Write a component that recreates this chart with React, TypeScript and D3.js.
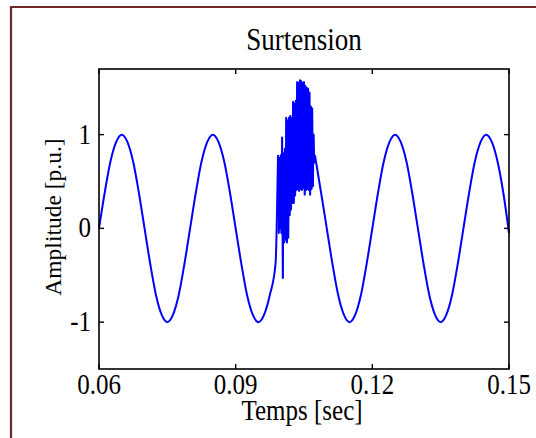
import React from "react";
import * as d3 from "d3";

// plot size
const W = 536;
const H = 438;
const margin = { left: 99, right: 27, top: 69, bottom: 69 };

const xTicks = [0.06, 0.09, 0.12, 0.15];
const xTickLabels = ["0.06", "0.09", "0.12", "0.15"];
const yTicks = [1, 0, -1];
const yTickLabels = ["1", "0", "-1"];

// 50 Hz voltage before the disturbance
const waveBefore: [number, number][] = [
  [0.06, 0], [0.06125, 0.38], [0.0625, 0.71], [0.06375, 0.92], [0.065, 1],
  [0.06625, 0.92], [0.0675, 0.71], [0.06875, 0.38], [0.07, 0], [0.07125, -0.38],
  [0.0725, -0.71], [0.07375, -0.92], [0.075, -1], [0.07625, -0.92], [0.0775, -0.71],
  [0.07875, -0.38], [0.08, 0], [0.08125, 0.38], [0.0825, 0.71], [0.08375, 0.92],
  [0.085, 1], [0.08625, 0.92], [0.0875, 0.71], [0.08875, 0.38], [0.09, 0],
  [0.09125, -0.38], [0.0925, -0.71], [0.09375, -0.92], [0.095, -1], [0.09625, -0.92],
  [0.0975, -0.71], [0.09875, -0.38],
];

// high frequency overvoltage burst
const burst: [number, number][] = [
  [0.0993, 0.78], [0.09945, -0.05], [0.0996, 0.75], [0.09975, 0.0], [0.0999, 0.78],
  [0.10005, -0.05], [0.1002, 0.97], [0.10035, -0.53], [0.1005, 0.8], [0.10065, -0.15],
  [0.1008, 0.85], [0.10095, -0.12], [0.1011, 1.18], [0.10125, -0.15], [0.1014, 1.15],
  [0.10155, -0.1], [0.1017, 1.18], [0.10185, 0.14], [0.102, 1.2], [0.10215, 0.2],
  [0.1023, 1.18], [0.10245, 0.27], [0.1026, 1.35], [0.10275, 0.27], [0.1029, 1.33],
  [0.10305, 0.35], [0.1032, 1.36], [0.10335, 0.41], [0.1035, 1.56], [0.10365, 0.42],
  [0.1038, 1.55], [0.10395, 0.4], [0.1041, 1.58], [0.10425, 0.42], [0.1044, 1.57],
  [0.10455, 0.41], [0.1047, 1.55], [0.10485, 0.43], [0.105, 1.56], [0.10515, 0.36],
  [0.1053, 1.52], [0.10545, 0.41], [0.1056, 1.5], [0.10575, 0.42], [0.1059, 1.49],
  [0.10605, 0.41], [0.1062, 1.45], [0.10635, 0.36], [0.1065, 1.3], [0.10665, 0.42],
  [0.1068, 1.28], [0.10695, 0.45], [0.1071, 1.0], [0.10725, 0.7], [0.1074, 0.78],
];

const waveAfter: [number, number][] = [
  [0.10875, 0.38], [0.11, 0], [0.11125, -0.38], [0.1125, -0.71], [0.11375, -0.92],
  [0.115, -1], [0.11625, -0.92], [0.1175, -0.71], [0.11875, -0.38], [0.12, 0],
  [0.12125, 0.38], [0.1225, 0.71], [0.12375, 0.92], [0.125, 1], [0.12625, 0.92],
  [0.1275, 0.71], [0.12875, 0.38], [0.13, 0], [0.13125, -0.38], [0.1325, -0.71],
  [0.13375, -0.92], [0.135, -1], [0.13625, -0.92], [0.1375, -0.71], [0.13875, -0.38],
  [0.14, 0], [0.14125, 0.38], [0.1425, 0.71], [0.14375, 0.92], [0.145, 1],
  [0.14625, 0.92], [0.1475, 0.71], [0.14875, 0.38], [0.15, -0.05],
];

const font = "'Liberation Serif', 'Times New Roman', serif";

// text looks a bit taller than wide in the original
const Label = ({ x, y, size, anchor = "middle", children }: any) => (
  <text transform={`translate(${x},${y}) scale(1,1.15)`} textAnchor={anchor} fontSize={size}>
    {children}
  </text>
);

export default function App() {
  const x = d3.scaleLinear().domain([0.06, 0.15]).range([margin.left, W - margin.right]);
  const y = d3.scaleLinear().domain([-1.5, 1.7]).range([H - margin.bottom, margin.top]);

  const smooth = d3
    .line<[number, number]>()
    .x((d) => x(d[0]))
    .y((d) => y(d[1]))
    .curve(d3.curveMonotoneX);
  const sharp = d3
    .line<[number, number]>()
    .x((d) => x(d[0]))
    .y((d) => y(d[1]));

  // the burst is so dense it reads as a solid band: fill between each swing
  const swings = d3.pairs(burst).map(([a, b]) => ({
    t: (a[0] + b[0]) / 2,
    lo: Math.min(a[1], b[1]),
    hi: Math.max(a[1], b[1]),
  }));
  const band = d3
    .area<{ t: number; lo: number; hi: number }>()
    .x((d) => x(d.t))
    .y0((d) => y(d.lo))
    .y1((d) => y(d.hi))
    .curve(d3.curveStep);

  const first = burst[0];
  const last = burst[burst.length - 1];

  const x0 = margin.left, x1 = W - margin.right;
  const y0 = margin.top, y1 = H - margin.bottom;
  const tl = 5;

  return (
    <svg width={W} height={H} style={{ position: "absolute", left: 0, top: 0, background: "#fff" }} fontFamily={font}>
      {/* outer frame */}
      <path d={`M11,${H} V7 H${W}`} fill="none" stroke="#6b2b2b" strokeWidth={2.2} />

      <Label x={(x0 + x1) / 2} y={50} size={27}>Surtension</Label>

      <path d={band(swings) || ""} fill="#0000ff" />
      <g fill="none" stroke="#0000ff" strokeWidth={2} strokeLinejoin="round">
        <path d={smooth([...waveBefore, first]) || ""} />
        <path d={sharp(burst) || ""} />
        <path d={smooth([last, ...waveAfter]) || ""} />
      </g>

      {/* axes box */}
      <rect x={x0} y={y0} width={x1 - x0} height={y1 - y0} fill="none" stroke="#000" strokeWidth={1.6} />
      {xTicks.map((t, i) => (
        <g key={"x" + i}>
          <line x1={x(t)} x2={x(t)} y1={y1} y2={y1 - tl} stroke="#000" strokeWidth={1.4} />
          <line x1={x(t)} x2={x(t)} y1={y0} y2={y0 + tl} stroke="#000" strokeWidth={1.4} />
          <Label x={x(t)} y={y1 + 25} size={25}>{xTickLabels[i]}</Label>
        </g>
      ))}
      {yTicks.map((t, i) => (
        <g key={"y" + i}>
          <line x1={x0} x2={x0 + tl} y1={y(t)} y2={y(t)} stroke="#000" strokeWidth={1.4} />
          <line x1={x1} x2={x1 - tl} y1={y(t)} y2={y(t)} stroke="#000" strokeWidth={1.4} />
          <Label x={x0 - 8} y={y(t) + 9} size={25} anchor="end">{yTickLabels[i]}</Label>
        </g>
      ))}

      <Label x={302} y={420} size={25}>Temps [sec]</Label>
      <text transform={`translate(61,217) rotate(-90)`} textAnchor="middle" fontSize={23.5}>Amplitude [p.u.]</text>
    </svg>
  );
}
